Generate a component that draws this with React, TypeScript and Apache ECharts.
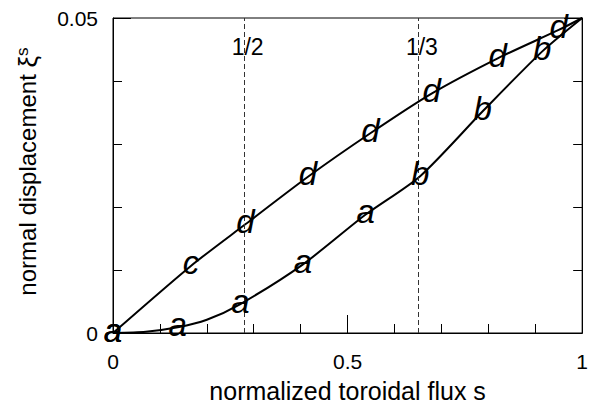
import React, { useEffect, useRef } from "react";
import * as echarts from "echarts";

// Lower curve (a / b labels)
const lowerS = [0, 0.07, 0.138, 0.2, 0.2715, 0.405, 0.5386, 0.6547, 0.788, 0.915, 1];
const lowerV = [0, 0.0002, 0.0009, 0.0021, 0.0046, 0.0109, 0.0188, 0.0249, 0.0352, 0.0447, 0.05];
const lowerMarkS = [0, 0.138, 0.2715, 0.405, 0.5386, 0.6547, 0.788, 0.915];
const lowerMarkV = [0, 0.0009, 0.0046, 0.0109, 0.0188, 0.0249, 0.0352, 0.0447];
const lowerMarkLetters = ["a", "a", "a", "a", "a", "b", "b", "b"];

// Upper curve (c / d labels)
const upperS = [0, 0.166, 0.282, 0.4156, 0.5485, 0.679, 0.82, 0.95, 1];
const upperV = [0, 0.01065, 0.01725, 0.0248, 0.0317, 0.038, 0.0436, 0.0481, 0.05];
const upperMarkS = [0, 0.166, 0.282, 0.4156, 0.5485, 0.679, 0.82, 0.95];
const upperMarkV = [0, 0.01065, 0.01725, 0.0248, 0.0317, 0.038, 0.0436, 0.0481];
const upperMarkLetters = ["a", "c", "d", "d", "d", "d", "d", "d"];

// Rational surfaces
const rationalS = [0.2806, 0.652];
const rationalLabels = ["1/2", "1/3"];
const rationalLabelV = 0.0454;

const xTicks = [0, 0.5, 1];
const yTicks = [0, 0.05];

const FONT = "Liberation Sans";

export default function App() {
  const ref = useRef<HTMLDivElement>(null);
  useEffect(() => {
    document.body.style.margin = "0";
    const chart = echarts.init(ref.current!, null, { renderer: "svg" });
    const tickCommon = {
      axisLine: { show: true, lineStyle: { color: "#000", width: 1 } },
      axisTick: { show: true, inside: true, length: 18, lineStyle: { color: "#000", width: 1 } },
      minorTick: { show: true, splitNumber: 5, length: 9, lineStyle: { color: "#000", width: 1 } },
      splitLine: { show: false },
      minorSplitLine: { show: false },
    };
    const letterLabel = {
      show: true,
      position: "inside",
      formatter: (p: any) => p.data[2],
      fontSize: 33,
      fontStyle: "italic",
      fontFamily: FONT,
      color: "#000",
      opacity: 1,
      offset: [0, -3],
    };
    const hidden = { color: "rgba(0,0,0,0)", borderWidth: 0 };
    const option: any = {
      animation: false,
      grid: { left: 113, right: 4, top: 18, bottom: 74, show: true, borderColor: "#000", borderWidth: 1, backgroundColor: "transparent" },
      xAxis: {
        type: "value",
        min: 0,
        max: 1,
        interval: 0.5,
        ...tickCommon,
        axisLabel: {
          fontSize: 21,
          fontFamily: FONT,
          color: "#000",
          margin: 18,
          formatter: (v: number) => (xTicks.includes(v) ? String(v) : ""),
        },
        name: "normalized toroidal flux s",
        nameLocation: "middle",
        nameGap: 45,
        nameTextStyle: { fontSize: 25, fontFamily: FONT, color: "#000" },
      },
      yAxis: [
        {
          type: "value",
          min: 0,
          max: 0.05,
          interval: 0.05,
          position: "left",
          ...tickCommon,
          axisLabel: {
            fontSize: 21,
            fontFamily: FONT,
            color: "#000",
            margin: 15,
            formatter: (v: number) => (yTicks.includes(v) ? String(v) : ""),
          },
          name: "normal displacement {xi|ξ}{sup|s}",
          nameLocation: "middle",
          nameGap: 72,
          nameTextStyle: {
            fontSize: 24,
            fontFamily: FONT,
            color: "#000",
            padding: [0, 0, 0, 8],
            rich: {
              xi: { fontSize: 26, fontFamily: FONT, color: "#000" },
              sup: { fontSize: 17, fontFamily: FONT, color: "#000", verticalAlign: "top", padding: [0, 0, 10, 0] },
            },
          },
        },
        {
          type: "value",
          min: 0,
          max: 0.05,
          interval: 0.05,
          position: "right",
          ...tickCommon,
          axisLabel: { show: false },
        },
      ],
      series: [
        {
          type: "line",
          data: lowerS.map((s, i) => [s, lowerV[i]]),
          showSymbol: false,
          smooth: 0.25,
          lineStyle: { color: "#000", width: 2 },
          markLine: {
            silent: true,
            symbol: ["none", "none"],
            label: { show: false },
            lineStyle: { color: "#333", width: 1, type: [5, 3] },
            data: rationalS.map((s) => ({ xAxis: s })),
          },
          z: 3,
        },
        {
          type: "line",
          data: upperS.map((s, i) => [s, upperV[i]]),
          showSymbol: false,
          smooth: 0.25,
          lineStyle: { color: "#000", width: 2 },
          z: 3,
        },
        {
          type: "scatter",
          data: lowerMarkS.map((s, i) => [s, lowerMarkV[i], lowerMarkLetters[i]]),
          symbolSize: 2,
          itemStyle: hidden,
          label: letterLabel,
          clip: false,
          z: 5,
        },
        {
          type: "scatter",
          data: upperMarkS.map((s, i) => [s, upperMarkV[i], upperMarkLetters[i]]),
          symbolSize: 2,
          itemStyle: hidden,
          label: letterLabel,
          clip: false,
          z: 5,
        },
        {
          type: "scatter",
          data: rationalS.map((s, i) => [s, rationalLabelV, rationalLabels[i]]),
          symbolSize: 2,
          itemStyle: hidden,
          label: {
            show: true,
            position: "inside",
            formatter: (p: any) => p.data[2],
            fontSize: 23,
            fontFamily: FONT,
            color: "#000",
            opacity: 1,
            offset: [3, 0],
          },
          clip: false,
          z: 5,
        },
      ],
    };
    chart.setOption(option);
    return () => chart.dispose();
  }, []);
  return <div ref={ref} style={{ width: 591, height: 408 }} />;
}
